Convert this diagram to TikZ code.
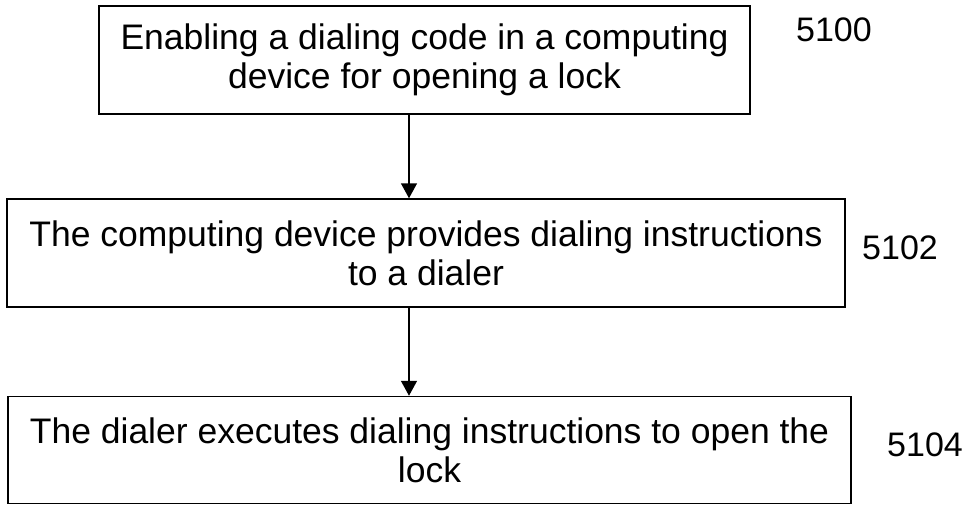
\documentclass[tikz,border=0pt]{standalone}
\usepackage{fontspec}
\setmainfont{Liberation Sans}
\usetikzlibrary{arrows.meta, positioning, calc}

\begin{document}
\begin{tikzpicture}[x=1pt, y=-1pt,
    stepbox/.style={draw, line width=1.5pt, align=center, inner sep=0pt,
                    font=\fontsize{35.5}{39}\selectfont},
    steplbl/.style={font=\fontsize{34}{38}\selectfont},
    arr/.style={-{Triangle[length=15pt, width=16pt]}, line width=1.5pt}]
    % --- Moldura ---
    \useasboundingbox (0,0) rectangle (969,506);

    % --- Passos ---
    \node[stepbox, minimum width=651pt, minimum height=108pt] (s5100) at (424.5,60)
        {Enabling a dialing code in a computing\\device for opening a lock};
    \node[stepbox, minimum width=838pt, minimum height=108pt] (s5102) at (426,253)
        {The computing device provides dialing instructions\\to a dialer};
    \node[stepbox, minimum width=843pt, minimum height=107pt] (s5104) at (429.5,450)
        {The dialer executes dialing instructions to open the\\lock};

    % --- Rotulos ---
    \node[steplbl] (l5100) at (834,30) {5100};
    \node[steplbl] (l5102) at (900,248) {5102};
    \node[steplbl] (l5104) at (925,445) {5104};

    % --- Setas ---
    \coordinate (ax) at (409,0);
    \draw[arr] (ax |- s5100.south) -- (ax |- s5102.north);
    \draw[arr] (ax |- s5102.south) -- (ax |- s5104.north);
\end{tikzpicture}
\end{document}
